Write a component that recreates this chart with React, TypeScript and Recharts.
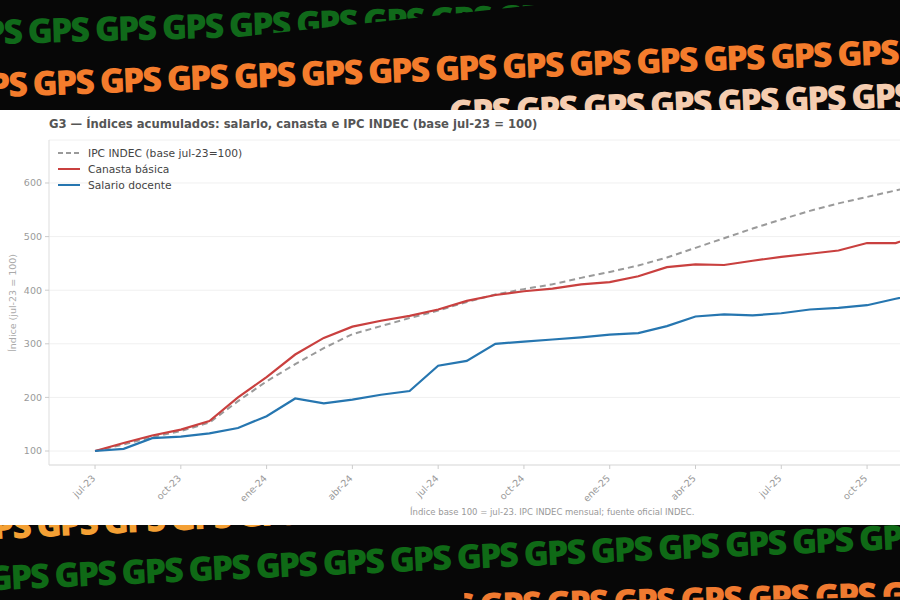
import React from 'react';
import { LineChart, Line, XAxis, YAxis, CartesianGrid } from 'recharts';

const months = [
  'jul-23', 'ago-23', 'sep-23', 'oct-23', 'nov-23', 'dic-23',
  'ene-24', 'feb-24', 'mar-24', 'abr-24', 'may-24', 'jun-24',
  'jul-24', 'ago-24', 'sep-24', 'oct-24', 'nov-24', 'dic-24',
  'ene-25', 'feb-25', 'mar-25', 'abr-25', 'may-25', 'jun-25',
  'jul-25', 'ago-25', 'sep-25', 'oct-25', 'nov-25', 'dic-25',
];
const ipcIndec = [100, 112, 126, 137, 153, 193, 230, 262, 292, 318, 333, 348, 362, 378, 392, 402, 411, 423, 434, 446, 461, 479, 497, 515, 532, 548, 562, 574, 586, 598];
const canastaBasica = [100, 115, 129, 140, 156, 200, 238, 280, 311, 332, 343, 352, 364, 380, 391, 398, 403, 411, 415, 426, 443, 448, 447, 455, 462, 468, 474, 488, 488, 505];
const salarioDocente = [100, 104, 124, 127, 133, 143, 165, 198, 189, 196, 205, 212, 259, 268, 300, 304, 308, 312, 317, 320, 333, 351, 355, 353, 357, 364, 367, 372, 384, 395];

const xTickIndex = [0, 3, 6, 9, 12, 15, 18, 21, 24, 27, 30];
const xTickLabels = ['jul-23', 'oct-23', 'ene-24', 'abr-24', 'jul-24', 'oct-24', 'ene-25', 'abr-25', 'jul-25', 'oct-25', 'ene-26'];
const yTicks = [100, 200, 300, 400, 500, 600];
const seriesNames = ['IPC INDEC (base jul-23=100)', 'Canasta básica', 'Salario docente'];

const titleText = 'G3 — Índices acumulados: salario, canasta e IPC INDEC (base jul-23 = 100)';
const yAxisTitle = 'Índice (jul-23 = 100)';
const footnote = 'Índice base 100 = jul-23. IPC INDEC mensual; fuente oficial INDEC.';
const bannerWord = 'GPS';

const data = months.map((m, i) => ({
  i,
  month: m,
  ipc: ipcIndec[i],
  canasta: canastaBasica[i],
  salario: salarioDocente[i],
}));

const FONT = '"DejaVu Sans", Verdana, sans-serif';
const COLORS = { ipc: '#9a9a9a', canasta: '#c9403f', salario: '#2676b0' };

const XTick = (props: any) => {
  const { x, y, payload } = props;
  const idx = xTickIndex.indexOf(payload.value);
  const label = idx >= 0 ? xTickLabels[idx] : '';
  return (
    <g transform={`translate(${x + 1},${y + 8})`}>
      <text x={0} y={0} transform="rotate(-45)" textAnchor="end" fontSize={9.5} fill="#9a9a9a" fontFamily={FONT}>
        {label}
      </text>
    </g>
  );
};

const YTick = (props: any) => {
  const { x, y, payload } = props;
  return (
    <text x={x} y={y} dy="0.35em" textAnchor="end" fontSize={9.5} fill="#9a9a9a" fontFamily={FONT}>
      {payload.value}
    </text>
  );
};

const BannerRow = ({ color, x, y, angle, size = 34, clip }: any) => (
  <text
    x={x}
    y={y}
    transform={`rotate(${angle} 0 ${y})`}
    fill={color}
    fontFamily='"Open Sans", Lato, sans-serif'
    fontWeight={800}
    fontSize={size}
    letterSpacing={-2}
    clipPath={clip}
  >
    {Array(18).fill(bannerWord).join(' ')}
  </text>
);

export default function App() {
  const legendItems = [
    { name: seriesNames[0], color: COLORS.ipc, dash: true },
    { name: seriesNames[1], color: COLORS.canasta, dash: false },
    { name: seriesNames[2], color: COLORS.salario, dash: false },
  ];
  return (
    <div style={{ position: 'fixed', left: 0, top: 0, width: 900, height: 600, overflow: 'hidden', background: '#070707' }}>
      <svg width={900} height={600} style={{ position: 'absolute', left: 0, top: 0 }}>
        <defs>
          <clipPath id="clipA">
            <polygon points="0,16 560,11 560,18 210,46 0,50" />
          </clipPath>
          <clipPath id="clipC">
            <rect x={445} y={0} width={460} height={200} />
          </clipPath>
          <clipPath id="clipF">
            <rect x={465} y={500} width={440} height={120} />
          </clipPath>
        </defs>
        <BannerRow color="#10691a" x={-39} y={44} angle={-1.6} clip="url(#clipA)" />
        <BannerRow color="#f47c2c" x={-34} y={97} angle={-2.1} />
        <BannerRow color="#f5cdb0" x={-20} y={142} angle={-2.2} clip="url(#clipC)" />
        <BannerRow color="#f4a034" x={-30} y={539} angle={-2.8} />
        <BannerRow color="#0f6a16" x={-12} y={590} angle={-2.6} />
        <BannerRow color="#f07a30" x={10} y={630} angle={-1.5} clip="url(#clipF)" />
      </svg>

      <div style={{ position: 'absolute', left: 0, top: 110, width: 900, height: 415, background: '#ffffff', overflow: 'hidden' }}>
        <div style={{ position: 'absolute', left: 49, top: 7, fontFamily: FONT, fontWeight: 'bold', fontSize: 11.6, color: '#555', whiteSpace: 'nowrap' }}>
          {titleText}
        </div>

        <div style={{ position: 'absolute', left: 0, top: 0 }}>
          <LineChart width={970} height={415} data={data} margin={{ top: 30, right: 0, bottom: 0, left: 0 }}>
            <CartesianGrid horizontal={true} vertical={false} stroke="#f0f0f0" strokeWidth={1} />
            <XAxis
              dataKey="i"
              type="number"
              domain={[-1.61, 30.6]}
              allowDataOverflow
              ticks={xTickIndex}
              interval={0}
              height={60}
              tickSize={4}
              tickMargin={2}
              tick={<XTick />}
              axisLine={{ stroke: '#dddddd' }}
              tickLine={{ stroke: '#cccccc' }}
            />
            <YAxis
              type="number"
              domain={[73.9, 680.2]}
              allowDataOverflow
              ticks={yTicks}
              interval={0}
              width={49}
              tickSize={4}
              tickMargin={3}
              tick={<YTick />}
              axisLine={{ stroke: '#dddddd' }}
              tickLine={{ stroke: '#cccccc' }}
            />
            <Line type="linear" dataKey="ipc" name={seriesNames[0]} stroke={COLORS.ipc} strokeWidth={2} strokeDasharray="6 4" dot={false} isAnimationActive={false} />
            <Line type="linear" dataKey="canasta" name={seriesNames[1]} stroke={COLORS.canasta} strokeWidth={2.2} dot={false} isAnimationActive={false} />
            <Line type="linear" dataKey="salario" name={seriesNames[2]} stroke={COLORS.salario} strokeWidth={2.2} dot={false} isAnimationActive={false} />
          </LineChart>
        </div>

        <div style={{ position: 'absolute', left: 56, top: 35, fontFamily: FONT, fontSize: 10.7, color: '#444' }}>
          {legendItems.map((it) => (
            <div key={it.name} style={{ display: 'flex', alignItems: 'center', height: 16 }}>
              <svg width={26} height={10} style={{ marginRight: 6 }}>
                <line x1={2} y1={5} x2={24} y2={5} stroke={it.color} strokeWidth={2} strokeDasharray={it.dash ? '5 3' : undefined} />
              </svg>
              <span>{it.name}</span>
            </div>
          ))}
        </div>

        <div
          style={{
            position: 'absolute', left: 12, top: 193, fontFamily: FONT, fontSize: 9.5, color: '#aaa', whiteSpace: 'nowrap',
            transform: 'translate(-50%, -50%) rotate(-90deg)',
          }}
        >
          {yAxisTitle}
        </div>

        <div style={{ position: 'absolute', left: 410, top: 397, fontFamily: FONT, fontSize: 8.5, color: '#999', whiteSpace: 'nowrap' }}>
          {footnote}
        </div>
      </div>
    </div>
  );
}
